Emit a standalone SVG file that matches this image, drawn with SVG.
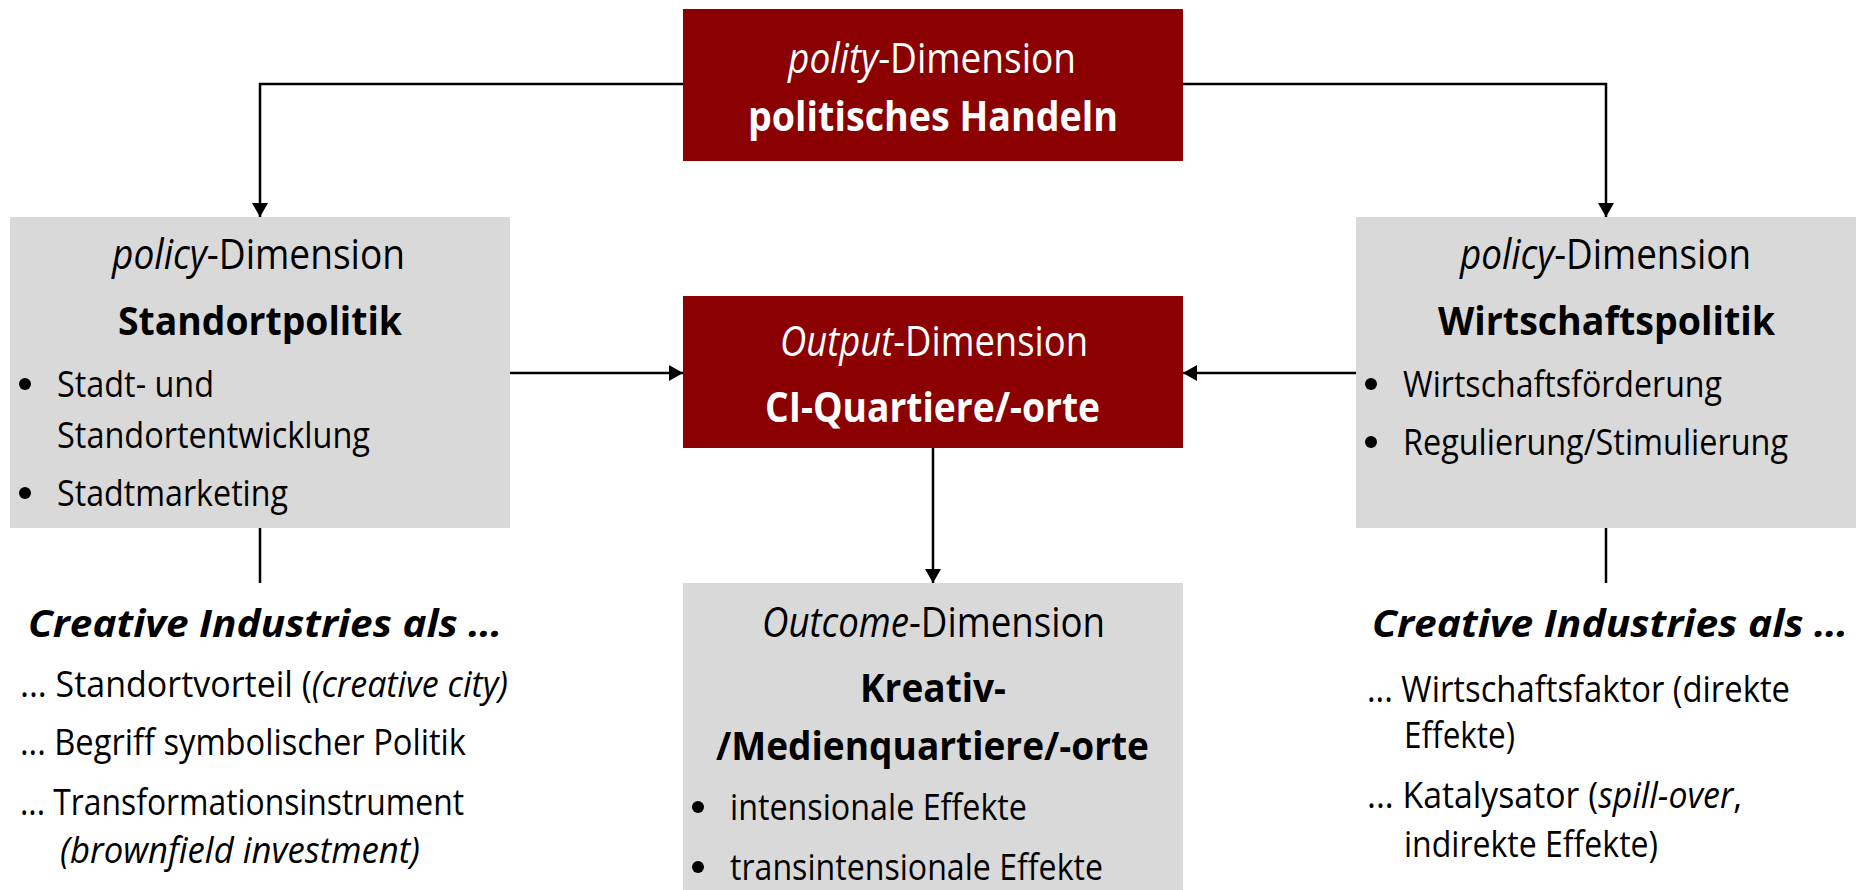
<svg xmlns="http://www.w3.org/2000/svg" width="1861" height="890" viewBox="0 0 1861 890">
<style>
.red{fill:#8B0000}
.grey{fill:#D9D9D9}
text{font-family:"Open Sans","Liberation Sans",sans-serif;fill:#000}
.w{fill:#fff}
.dim{font-size:42px}
.tb{font-size:42px;font-weight:bold}
.gb{font-size:39px;font-weight:bold}
.body{font-size:36px}
.hd{font-size:37px;font-weight:bold;font-style:italic}
.it{font-style:italic}
.conn{stroke:#000;stroke-width:2.5;fill:none}
.dot{fill:#000}
</style>
<defs>
<marker id="arr" viewBox="0 0 14 16" refX="14" refY="8" markerWidth="14" markerHeight="16" markerUnits="userSpaceOnUse" orient="auto">
<path d="M0,0 L14,8 L0,16 z" fill="#000"/>
</marker>
</defs>
<rect width="1861" height="890" fill="#fff"/>

<g id="connectors">
<path class="conn" d="M683,84 H260 V217" marker-end="url(#arr)"/>
<path class="conn" d="M1183,84 H1606 V217" marker-end="url(#arr)"/>
<path class="conn" d="M510,373 H683" marker-end="url(#arr)"/>
<path class="conn" d="M1356,373 H1183" marker-end="url(#arr)"/>
<path class="conn" d="M933,448 V583" marker-end="url(#arr)"/>
<path class="conn" d="M260,528 V583"/>
<path class="conn" d="M1606,528 V583"/>
</g>

<g id="polity">
<rect class="red" x="683" y="9" width="500" height="152"/>
<text class="dim w" x="788" y="73" textLength="288" lengthAdjust="spacingAndGlyphs"><tspan class="it">polity</tspan>-Dimension</text>
<text class="tb w" x="748" y="131" textLength="370" lengthAdjust="spacingAndGlyphs">politisches Handeln</text>
</g>

<g id="policy-left">
<rect class="grey" x="10" y="217" width="500" height="311"/>
<text class="dim" x="112" y="269" textLength="293" lengthAdjust="spacingAndGlyphs"><tspan class="it">policy</tspan>-Dimension</text>
<text class="gb" x="118" y="335" textLength="284" lengthAdjust="spacingAndGlyphs">Standortpolitik</text>
<circle class="dot" cx="25" cy="384" r="6"/>
<text class="body" x="57" y="397" textLength="157" lengthAdjust="spacingAndGlyphs">Stadt- und</text>
<text class="body" x="57" y="448" textLength="313" lengthAdjust="spacingAndGlyphs">Standortentwicklung</text>
<circle class="dot" cx="25" cy="493" r="6"/>
<text class="body" x="57" y="506" textLength="231" lengthAdjust="spacingAndGlyphs">Stadtmarketing</text>
</g>

<g id="policy-right">
<rect class="grey" x="1356" y="217" width="500" height="311"/>
<text class="dim" x="1460" y="269" textLength="291" lengthAdjust="spacingAndGlyphs"><tspan class="it">policy</tspan>-Dimension</text>
<text class="gb" x="1438" y="335" textLength="337" lengthAdjust="spacingAndGlyphs">Wirtschaftspolitik</text>
<circle class="dot" cx="1371" cy="384" r="6"/>
<text class="body" x="1403" y="397" textLength="319" lengthAdjust="spacingAndGlyphs">Wirtschaftsförderung</text>
<circle class="dot" cx="1371" cy="442" r="6"/>
<text class="body" x="1403" y="455" textLength="385" lengthAdjust="spacingAndGlyphs">Regulierung/Stimulierung</text>
</g>

<g id="output">
<rect class="red" x="683" y="296" width="500" height="152"/>
<text class="dim w" x="780" y="356" textLength="308" lengthAdjust="spacingAndGlyphs"><tspan class="it">Output</tspan>-Dimension</text>
<text class="tb w" x="765" y="422" textLength="335" lengthAdjust="spacingAndGlyphs">CI-Quartiere/-orte</text>
</g>

<g id="outcome">
<rect class="grey" x="683" y="583" width="500" height="310"/>
<text class="dim" x="762" y="637" textLength="343" lengthAdjust="spacingAndGlyphs"><tspan class="it">Outcome</tspan>-Dimension</text>
<text class="gb" x="860" y="702" textLength="146" lengthAdjust="spacingAndGlyphs">Kreativ-</text>
<text class="gb" x="716" y="760" textLength="433" lengthAdjust="spacingAndGlyphs">/Medienquartiere/-orte</text>
<circle class="dot" cx="698" cy="807" r="6"/>
<text class="body" x="730" y="820" textLength="297" lengthAdjust="spacingAndGlyphs">intensionale Effekte</text>
<circle class="dot" cx="698" cy="867" r="6"/>
<text class="body" x="730" y="880" textLength="373" lengthAdjust="spacingAndGlyphs">transintensionale Effekte</text>
</g>

<g id="ci-left">
<text class="hd" x="28" y="637" textLength="474" lengthAdjust="spacingAndGlyphs">Creative Industries als …</text>
<text class="body" x="20" y="697" textLength="488" lengthAdjust="spacingAndGlyphs">... Standortvorteil (<tspan class="it">(creative city)</tspan></text>
<text class="body" x="20" y="755" textLength="446" lengthAdjust="spacingAndGlyphs">... Begriff symbolischer Politik</text>
<text class="body" x="20" y="815" textLength="444" lengthAdjust="spacingAndGlyphs">... Transformationsinstrument</text>
<text class="body it" x="60" y="863" textLength="360" lengthAdjust="spacingAndGlyphs">(brownfield investment)</text>
</g>

<g id="ci-right">
<text class="hd" x="1372" y="637" textLength="476" lengthAdjust="spacingAndGlyphs">Creative Industries als …</text>
<text class="body" x="1367" y="702" textLength="423" lengthAdjust="spacingAndGlyphs">... Wirtschaftsfaktor (direkte</text>
<text class="body" x="1404" y="748" textLength="111" lengthAdjust="spacingAndGlyphs">Effekte)</text>
<text class="body" x="1367" y="808" textLength="375" lengthAdjust="spacingAndGlyphs">... Katalysator (<tspan class="it">spill-over</tspan>,</text>
<text class="body" x="1404" y="857" textLength="254" lengthAdjust="spacingAndGlyphs">indirekte Effekte)</text>
</g>
</svg>
